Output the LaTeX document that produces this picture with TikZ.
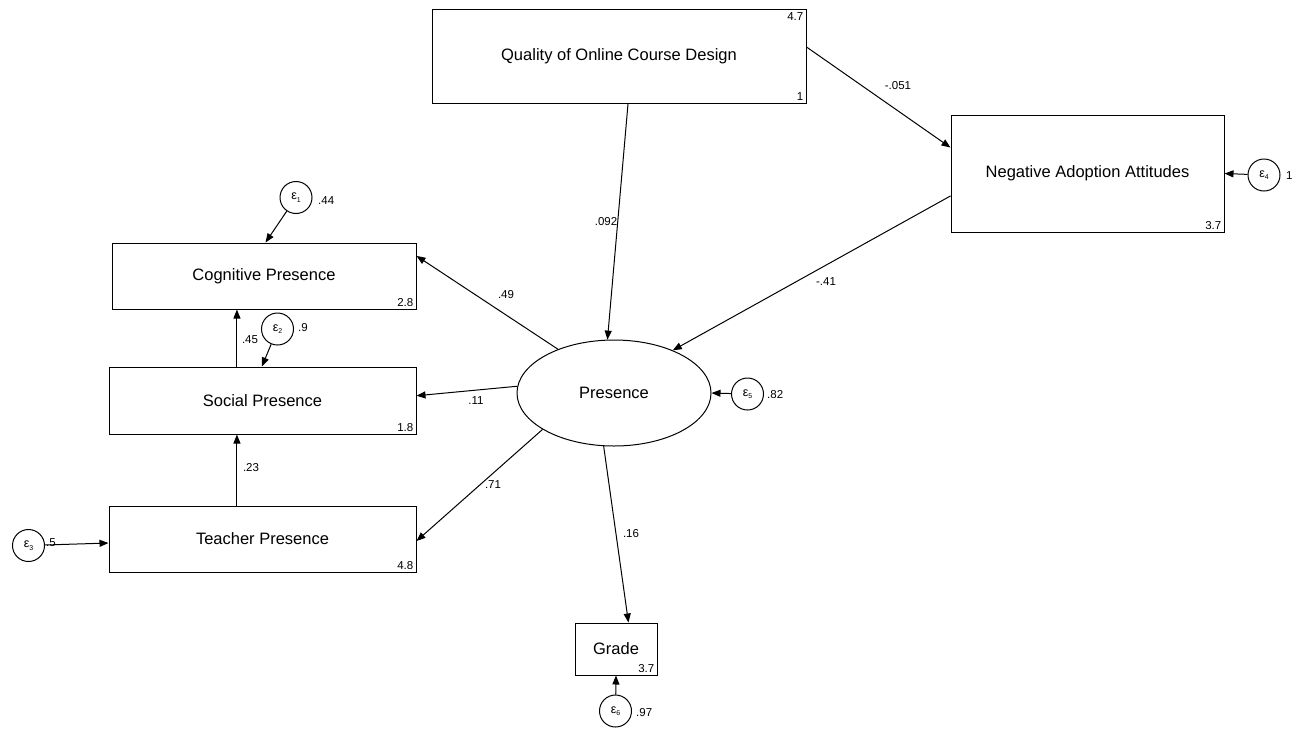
\documentclass[tikz,border=0pt]{standalone}
\usepackage{fontspec}
\setmainfont{Liberation Sans}
\usetikzlibrary{arrows.meta,shapes.geometric,calc}

\tikzset{
  box/.style={draw, line width=1pt, rectangle, inner sep=0pt,
    font=\fontsize{16.5}{20}\selectfont},
  latent/.style={draw, line width=1pt, ellipse, inner sep=0pt,
    font=\fontsize{16.5}{20}\selectfont},
  err/.style={draw, line width=1pt, circle, minimum size=32pt, inner sep=0pt,
    font=\fontsize{12.5}{13}\selectfont},
  val/.style={inner sep=1pt, font=\fontsize{11.5}{13}\selectfont},
  arr/.style={line width=1pt, -{Triangle[length=9pt,width=7pt]}},
}
\newcommand{\errsym}[1]{ε\raisebox{-2.5pt}{\fontsize{7}{7}\selectfont #1}}

\begin{document}
\begin{tikzpicture}[x=1pt,y=-1pt]
\useasboundingbox (0,0) rectangle (1296,729);

% observed variables
\node[box, minimum width=374pt, minimum height=94pt] (Q) at (619,56.5) {Quality of Online Course Design};
\node[box, minimum width=273pt, minimum height=117pt] (N) at (1087.5,173.5) {Negative Adoption Attitudes};
\node[box, minimum width=304pt, minimum height=66pt] (C) at (264,276) {Cognitive Presence};
\node[box, minimum width=307pt, minimum height=67pt] (S) at (262.5,400.5) {Social Presence};
\node[box, minimum width=307pt, minimum height=66pt] (T) at (262.5,539) {Teacher Presence};
\node[box, minimum width=82pt, minimum height=52pt] (G) at (616,649) {Grade};

% latent variable
\node[latent, minimum width=194pt, minimum height=106pt] (P) at (614,393) {Presence};

% intercepts / constants
\node[val, anchor=north east] (Qc) at ($(Q.north east)+(-2,2)$) {4.7};
\node[val, anchor=south east] (Qv) at ($(Q.south east)+(-2,-2)$) {1};
\node[val, anchor=south east] (Nc) at ($(N.south east)+(-2,-2)$) {3.7};
\node[val, anchor=south east] (Cc) at ($(C.south east)+(-2,-2)$) {2.8};
\node[val, anchor=south east] (Sc) at ($(S.south east)+(-2,-2)$) {1.8};
\node[val, anchor=south east] (Tc) at ($(T.south east)+(-2,-2)$) {4.8};
\node[val, anchor=south east] (Gc) at ($(G.south east)+(-2,-2)$) {3.7};

% error terms
\node[err] (e1) at (296,197.5) {\errsym{1}};
\node[err] (e2) at (277.5,329) {\errsym{2}};
\node[err] (e3) at (28.5,545.5) {\errsym{3}};
\node[err] (e4) at (1264,175) {\errsym{4}};
\node[err] (e5) at (747.5,394) {\errsym{5}};
\node[err] (e6) at (615.5,711) {\errsym{6}};

\node[val, anchor=west] (v1) at (317,201) {.44};
\node[val, anchor=west] (v2) at (297,327.5) {.9};
\node[val, anchor=west] (v3) at (45,543) {.5};
\node[val, anchor=west] (v4) at (1285,176) {1};
\node[val, anchor=west] (v5) at (766,395) {.82};
\node[val, anchor=west] (v6) at (635,713) {.97};

% structural paths
\draw[arr] ($(Q.south west)!0.524!(Q.south east)$) -- (P.97);
\draw[arr] ($(Q.north east)!0.4!(Q.south east)$) -- ($(N.north west)!0.28!(N.south west)$);
\draw[arr] ($(N.north west)!0.69!(N.south west)$) -- (P.36);
\draw[arr] (P.142) -- ($(C.north east)!0.2!(C.south east)$);
\draw[arr] (P.176) -- ($(S.north east)!0.43!(S.south east)$);
\draw[arr] (P.207) -- ($(T.north east)!0.53!(T.south east)$);
\draw[arr] (P.259) -- ($(G.north west)!0.65!(G.north east)$);

\coordinate (sc) at ($(S.north west)!0.417!(S.north east)$);
\coordinate (ts) at ($(T.north west)!0.417!(T.north east)$);
\draw[arr] (sc) -- (sc |- C.south);
\draw[arr] (ts) -- (ts |- S.south);

% error paths
\draw[arr] (e1) -- ($(C.north west)!0.505!(C.north east)$);
\draw[arr] (e2) -- ($(S.north west)!0.498!(S.north east)$);
\draw[arr] (e3) -- ($(T.north west)!0.56!(T.south west)$);
\draw[arr] (e4) -- (N.east);
\draw[arr] (e5) -- (P.east);
\draw[arr] (e6) -- (G.south);

% path coefficients
\node[val] (l1) at (606,222) {.092};
\node[val] (l2) at (898,86) {-.051};
\node[val] (l3) at (826,282) {-.41};
\node[val] (l4) at (506,295) {.49};
\node[val] (l5) at (476,401) {.11};
\node[val] (l6) at (493,485) {.71};
\node[val] (l7) at (631,534) {.16};
\node[val] (l8) at (250,340) {.45};
\node[val] (l9) at (251,468) {.23};
\end{tikzpicture}
\end{document}
